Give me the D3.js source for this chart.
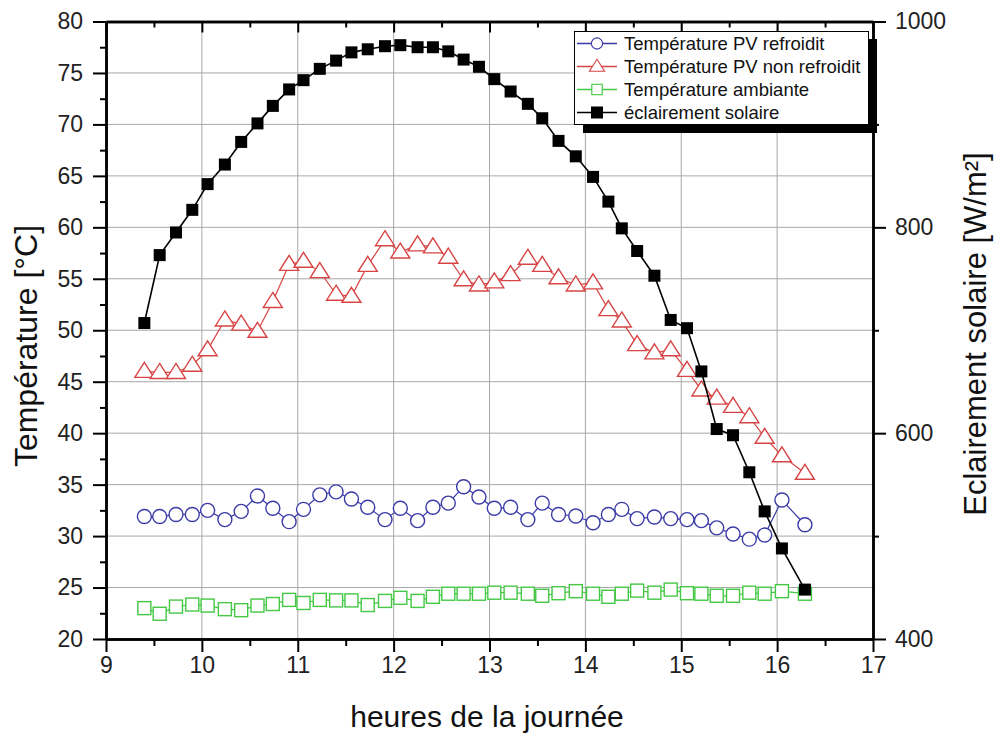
<!DOCTYPE html>
<html>
<head>
<meta charset="UTF-8" />
<title>temperature PV</title>
<script src="https://d3js.org/d3.v7.min.js"></script>
<style>
  body { margin: 0; background: #fff; }
  svg { font-family: "Liberation Sans", Arial, sans-serif; }
  .grid line { stroke: #a8a8a8; stroke-width: 1; }
  .axis path, .axis line { stroke: #000; }
  .axis path { stroke-width: 2.5; }
  .axis line { stroke-width: 2; }
  .axis text { font-size: 23px; fill: #222; }
</style>
</head>
<body>
<script>
var heures = [9.40, 9.56, 9.73, 9.90, 10.06, 10.24, 10.41, 10.58, 10.74, 10.91,
  11.06, 11.23, 11.40, 11.56, 11.73, 11.91, 12.07, 12.25, 12.41, 12.57,
  12.73, 12.89, 13.05, 13.22, 13.40, 13.55, 13.72, 13.90, 14.08, 14.24,
  14.38, 14.54, 14.72, 14.89, 15.06, 15.21, 15.37, 15.54, 15.71, 15.87,
  16.05, 16.29];

var tRefroidit = [31.9, 31.9, 32.1, 32.1, 32.5, 31.6, 32.4, 33.9, 32.7, 31.4,
  32.6, 34.0, 34.3, 33.6, 32.8, 31.6, 32.7, 31.5, 32.8, 33.2,
  34.8, 33.8, 32.7, 32.8, 31.6, 33.2, 32.1, 31.95, 31.3, 32.1,
  32.6, 31.7, 31.85, 31.7, 31.6, 31.5, 30.8, 30.2, 29.7, 30.1,
  33.5, 31.1];

var tNonRefroidit = [46.0, 45.9, 45.9, 46.6, 48.1, 51.0, 50.6, 49.9, 52.8, 56.4,
  56.7, 55.7, 53.5, 53.3, 56.3, 58.8, 57.6, 58.3, 58.1, 57.1,
  54.9, 54.4, 54.7, 55.4, 57.0, 56.3, 55.1, 54.4, 54.6, 52.0,
  50.9, 48.6, 47.8, 48.1, 46.1, 44.2, 43.4, 42.6, 41.6, 39.6,
  37.8, 36.1];

var tAmbiante = [23.0, 22.45, 23.15, 23.35, 23.25, 22.9, 22.8, 23.25, 23.4, 23.8,
  23.5, 23.8, 23.75, 23.75, 23.3, 23.7, 24.0, 23.7, 24.1, 24.4,
  24.4, 24.4, 24.5, 24.5, 24.4, 24.2, 24.45, 24.65, 24.4, 24.1,
  24.4, 24.7, 24.5, 24.8, 24.45, 24.4, 24.2, 24.2, 24.5, 24.4,
  24.65, 24.4];

var eclairement = [707, 773, 795, 817, 842, 861, 883, 901, 918, 934,
  943, 954, 962, 970, 973, 976, 977, 975, 975, 971,
  963, 956, 944, 932, 920, 906, 884, 869, 849, 825,
  799, 777, 753, 710, 702, 660, 604, 598, 562, 524,
  488, 448];

var xTicks = [9, 10, 11, 12, 13, 14, 15, 16, 17];
var yTicks = [20, 25, 30, 35, 40, 45, 50, 55, 60, 65, 70, 75, 80];
var y2Ticks = [400, 600, 800, 1000];

var legendLabels = ["Température PV refroidit", "Température PV non refroidit",
  "Température ambiante", "éclairement solaire"];

var width = 997, height = 740;
var pL = 106, pR = 873, pT = 21.5, pB = 639;

var svg = d3.select("body").append("svg").attr("width", width).attr("height", height);

var x = d3.scaleLinear().domain([9, 17]).range([pL, pR]);
var y = d3.scaleLinear().domain([20, 80]).range([pB, pT]);
var y2 = d3.scaleLinear().domain([400, 1000]).range([pB, pT]);

// grille
var grid = svg.append("g").attr("class", "grid");
grid.selectAll(".gx").data(xTicks.slice(1, -1)).enter().append("line")
  .attr("x1", function(d){ return x(d); }).attr("x2", function(d){ return x(d); })
  .attr("y1", pT).attr("y2", pB);
grid.selectAll(".gy").data(yTicks.slice(1, -1)).enter().append("line")
  .attr("y1", function(d){ return y(d); }).attr("y2", function(d){ return y(d); })
  .attr("x1", pL).attr("x2", pR);

// axes
function minors(major){
  var out = [];
  for (var i = 0; i < major.length - 1; i++) out.push((major[i] + major[i+1]) / 2);
  return out;
}

function drawAxis(gen, tr, labels){
  var g = svg.append("g").attr("class", "axis").attr("transform", tr).call(gen);
  if (!labels) g.selectAll("text").remove();
  return g;
}

var fmt = d3.format("d");
drawAxis(d3.axisBottom(x).tickValues(minors(xTicks)).tickSize(7).tickSizeOuter(0), "translate(0," + pB + ")", false);
drawAxis(d3.axisBottom(x).tickValues(xTicks).tickSize(13).tickPadding(5).tickFormat(fmt).tickSizeOuter(0), "translate(0," + pB + ")", true);
drawAxis(d3.axisTop(x).tickValues(minors(xTicks)).tickSize(-6).tickSizeOuter(0), "translate(0," + pT + ")", false);
drawAxis(d3.axisTop(x).tickValues(xTicks).tickSize(-11).tickSizeOuter(0), "translate(0," + pT + ")", false);
drawAxis(d3.axisLeft(y).tickValues(minors(yTicks)).tickSize(6).tickSizeOuter(0), "translate(" + pL + ",0)", false);
drawAxis(d3.axisLeft(y).tickValues(yTicks).tickSize(13).tickPadding(10).tickFormat(fmt).tickSizeOuter(0), "translate(" + pL + ",0)", true);
drawAxis(d3.axisRight(y2).tickValues(minors(y2Ticks)).tickSize(6).tickSizeOuter(0), "translate(" + pR + ",0)", false);
drawAxis(d3.axisRight(y2).tickValues(y2Ticks).tickSize(13).tickPadding(9).tickFormat(fmt).tickSizeOuter(0), "translate(" + pR + ",0)", true);

// titres
svg.append("text").attr("transform", "translate(37,346) rotate(-90)")
  .attr("text-anchor", "middle").style("font-size", "32px").style("fill", "#111")
  .text("Température [°C]");
svg.append("text").attr("transform", "translate(986,334) rotate(-90)")
  .attr("text-anchor", "middle").style("font-size", "31px").style("fill", "#111")
  .text("Eclairement solaire [W/m²]");
svg.append("text").attr("x", 487).attr("y", 727)
  .attr("text-anchor", "middle").style("font-size", "30px").style("fill", "#111")
  .text("heures de la journée");

// séries
var series = [
  { vals: tRefroidit, scale: y, color: "#3a3aa8", shape: "circle" },
  { vals: tNonRefroidit, scale: y, color: "#d84444", shape: "triangle" },
  { vals: tAmbiante, scale: y, color: "#44c844", shape: "square" },
  { vals: eclairement, scale: y2, color: "#000", shape: "filled" }
];

function marker(g, shape, color){
  if (shape === "circle") {
    g.append("circle").attr("r", 7).attr("fill", "#fff").attr("stroke", color).attr("stroke-width", 1.4);
  } else if (shape === "triangle") {
    g.append("path").attr("d", "M0,-9 L9.5,6 L-9.5,6 Z").attr("fill", "#fff").attr("stroke", color).attr("stroke-width", 1.4);
  } else if (shape === "square") {
    g.append("rect").attr("x", -6.5).attr("y", -6.5).attr("width", 13).attr("height", 13)
      .attr("fill", "#fff").attr("stroke", color).attr("stroke-width", 1.4);
  } else {
    g.append("rect").attr("x", -6).attr("y", -6).attr("width", 12).attr("height", 12).attr("fill", "#000");
  }
}

series.forEach(function(s){
  var line = d3.line()
    .x(function(d, i){ return x(heures[i]); })
    .y(function(d){ return s.scale(d); });
  svg.append("path").datum(s.vals).attr("d", line)
    .attr("fill", "none").attr("stroke", s.color).attr("stroke-width", s.shape === "filled" ? 1.6 : 1.2);
  svg.append("g").selectAll("g").data(s.vals).enter().append("g")
    .attr("transform", function(d, i){ return "translate(" + x(heures[i]) + "," + s.scale(d) + ")"; })
    .each(function(){ marker(d3.select(this), s.shape, s.color); });
});

// légende
var lg = svg.append("g");
lg.append("rect").attr("x", 583).attr("y", 39).attr("width", 294).attr("height", 94).attr("fill", "#000");
lg.append("rect").attr("x", 574.5).attr("y", 31.5).attr("width", 294).attr("height", 93)
  .attr("fill", "#fff").attr("stroke", "#000").attr("stroke-width", 1);
legendLabels.forEach(function(lab, i){
  var cy = 43.5 + i * 23;
  lg.append("line").attr("x1", 577).attr("x2", 617).attr("y1", cy).attr("y2", cy)
    .attr("stroke", series[i].color).attr("stroke-width", 1.3);
  var m = lg.append("g").attr("transform", "translate(597," + cy + ")");
  marker(m, series[i].shape, series[i].color);
  if (series[i].shape !== "filled") m.attr("transform", "translate(597," + cy + ") scale(0.8)");
  lg.append("text").attr("x", 624).attr("y", cy + 6.5).style("font-size", "18.5px").style("fill", "#111").text(lab);
});
</script>
</body>
</html>
